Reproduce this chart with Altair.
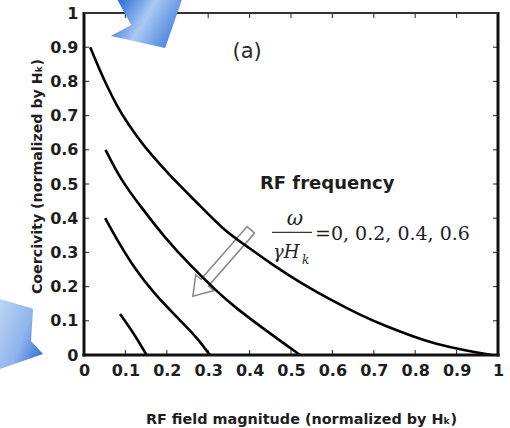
import math
import altair as alt
import pandas as pd

# ---------------------------------------------------------------------------
# Coercivity versus RF field magnitude, one curve per normalised RF frequency
# ---------------------------------------------------------------------------
freq_labels = ["0", "0.2", "0.4", "0.6"]

h_f0 = [0.015, 0.036, 0.056, 0.080, 0.105, 0.145, 0.185, 0.221, 0.274, 0.338,
        0.385, 0.457, 0.522, 0.602, 0.667, 0.731, 0.795, 0.844, 0.924, 0.985]
hc_f0 = [0.900, 0.839, 0.785, 0.727, 0.678, 0.610, 0.556, 0.508, 0.444, 0.365,
         0.325, 0.262, 0.212, 0.157, 0.117, 0.083, 0.054, 0.034, 0.012, 0.000]

h_f2 = [0.052, 0.089, 0.137, 0.193, 0.258, 0.322, 0.361, 0.441, 0.522]
hc_f2 = [0.600, 0.512, 0.434, 0.346, 0.260, 0.185, 0.143, 0.070, 0.000]

h_f4 = [0.051, 0.083, 0.121, 0.169, 0.225, 0.274, 0.304]
hc_f4 = [0.400, 0.330, 0.255, 0.180, 0.110, 0.050, 0.000]

h_f6 = [0.087, 0.121, 0.151]
hc_f6 = [0.120, 0.062, 0.000]

tick_vals = [0, 0.1, 0.2, 0.3, 0.4, 0.5, 0.6, 0.7, 0.8, 0.9, 1]
inner_ticks = tick_vals[1:-1]

# Outline of the hollow "increasing frequency" arrow (axis units)
arrow_tail = (0.403, 0.366)
arrow_tip = (0.263, 0.172)

# Decorative blue pointer shapes (axis units)
top_pointer_x = [0.080, 0.114, 0.065, 0.196, 0.237, 0.080]
top_pointer_y = [1.040, 0.965, 0.933, 0.898, 1.040, 1.040]
left_pointer_x = [-0.225, -0.123, -0.128, -0.099, -0.225, -0.225]
left_pointer_y = [0.172, 0.135, 0.041, 0.003, -0.050, 0.172]

# ---------------------------------------------------------------------------
W, H = 414, 342
FRAME = "#111111"
TXT = "#1e1e1e"

curves = pd.concat(
    [
        pd.DataFrame({"h": h, "hc": c, "freq": f})
        for h, c, f in zip([h_f0, h_f2, h_f4, h_f6],
                           [hc_f0, hc_f2, hc_f4, hc_f6], freq_labels)
    ],
    ignore_index=True,
)

sx = alt.Scale(domain=[0, 1], nice=False, zero=False)
sy = alt.Scale(domain=[0, 1], nice=False, zero=False)

x_axis = alt.Axis(
    values=tick_vals, format="~g", title="RF field magnitude (normalized by Hₖ)",
    labelFont="DejaVu Sans", labelFontWeight="bold", labelFontSize=16,
    labelColor=TXT, labelPadding=7, labelFlush=False, ticks=False, tickSize=0,
    domain=False, grid=False,
    titleFont="DejaVu Sans", titleFontWeight="bold", titleFontSize=14.4,
    titleColor=TXT, titleX=217, titleY=64, titleAlign="center",
    titleBaseline="middle",
)
y_axis = alt.Axis(
    values=tick_vals, format="~g", title="Coercivity (normalized by Hₖ)",
    labelFont="DejaVu Sans", labelFontWeight="bold", labelFontSize=16,
    labelColor=TXT, labelPadding=6, labelFlush=False, ticks=False, tickSize=0,
    domain=False, grid=False,
    titleFont="DejaVu Sans", titleFontWeight="bold", titleFontSize=14.2,
    titleColor=TXT, titleX=-47, titleY=163, titleAlign="center",
    titleBaseline="middle", titleAngle=270,
)


def X(field):
    return alt.X(field, type="quantitative", scale=sx, axis=x_axis)


def Y(field):
    return alt.Y(field, type="quantitative", scale=sy, axis=y_axis)


one = pd.DataFrame({"k": [0]})


def polygon(xs, ys):
    return pd.DataFrame({"px": xs, "py": ys, "i": list(range(len(xs)))})


def block_arrow(tail, tip, shaft_half=5.0, head_half=12.0, head_len=18.0):
    # built in screen units so the arrow keeps its proportions
    tx, ty = tail[0] * W, tail[1] * H
    ex, ey = tip[0] * W, tip[1] * H
    length = math.hypot(ex - tx, ey - ty)
    ux, uy = (ex - tx) / length, (ey - ty) / length
    nx, ny = -uy, ux
    bx, by = ex - ux * head_len, ey - uy * head_len
    pts = [
        (tx + nx * shaft_half, ty + ny * shaft_half),
        (bx + nx * shaft_half, by + ny * shaft_half),
        (bx + nx * head_half, by + ny * head_half),
        (ex, ey),
        (bx - nx * head_half, by - ny * head_half),
        (bx - nx * shaft_half, by - ny * shaft_half),
        (tx - nx * shaft_half, ty - ny * shaft_half),
        (tx + nx * shaft_half, ty + ny * shaft_half),
    ]
    return polygon([p[0] / W for p in pts], [p[1] / H for p in pts])


# hollow arrow (drawn beneath the curves)
open_arrow = alt.Chart(block_arrow(arrow_tail, arrow_tip)).mark_line(
    color="#8c8c8c", strokeWidth=1.6, strokeJoin="miter"
).encode(x=X("px"), y=Y("py"), order="i:Q")

lines = alt.Chart(curves).mark_line(
    color="black", strokeWidth=2.6, interpolate="basis"
).encode(x=X("h"), y=Y("hc"), detail="freq:N")

# inward ticks on all four sides
tick_df = pd.DataFrame({"v": inner_ticks})
tick_style = dict(color="#333333", strokeWidth=1.1)
ticks_left = alt.Chart(tick_df).mark_rule(**tick_style).encode(
    y=Y("v"), x=alt.value(0), x2=alt.value(5))
ticks_right = alt.Chart(tick_df).mark_rule(**tick_style).encode(
    y=Y("v"), x=alt.value(W - 5), x2=alt.value(W))
ticks_bottom = alt.Chart(tick_df).mark_rule(**tick_style).encode(
    x=X("v"), y=alt.value(H - 5), y2=alt.value(H))
ticks_top = alt.Chart(tick_df).mark_rule(**tick_style).encode(
    x=X("v"), y=alt.value(0), y2=alt.value(5))

# frame
frame_left = alt.Chart(one).mark_rule(color=FRAME, strokeWidth=3).encode(
    x=alt.value(0), y=alt.value(-1), y2=alt.value(H + 1.5))
frame_bottom = alt.Chart(one).mark_rule(color=FRAME, strokeWidth=3).encode(
    y=alt.value(H), x=alt.value(-1.5), x2=alt.value(W + 1.5))
frame_right = alt.Chart(one).mark_rule(color=FRAME, strokeWidth=3).encode(
    x=alt.value(W), y=alt.value(-1), y2=alt.value(H + 1.5))
frame_top = alt.Chart(one).mark_rule(color="#333333", strokeWidth=1.8).encode(
    y=alt.value(0), x=alt.value(0), x2=alt.value(W))

# annotations
def label(text, x, y, **style):
    return alt.Chart(one).mark_text(text=text, **style).encode(
        x=alt.datum(x, type="quantitative", scale=sx, axis=x_axis),
        y=alt.datum(y, type="quantitative", scale=sy, axis=y_axis),
    )


panel = label("(a)", 0.394, 0.886, font="DejaVu Sans", fontSize=21,
              color="#2a2a2a", align="center", baseline="middle")
rf_title = label("RF frequency", 0.425, 0.4845, font="DejaVu Sans",
                 fontSize=18, fontWeight="bold", color=TXT, align="left",
                 baseline="alphabetic")
omega = label("ω", 0.5097, 0.380, font="DejaVu Serif", fontSize=20,
              fontStyle="italic", color=TXT, align="center",
              baseline="alphabetic")
gamma_h = label("γH", 0.4565, 0.2836, font="DejaVu Serif", fontSize=18,
                fontStyle="italic", color=TXT, align="left",
                baseline="alphabetic")
sub_k = label("k", 0.5266, 0.266, font="DejaVu Serif", fontSize=12,
              fontStyle="italic", color=TXT, align="left",
              baseline="alphabetic")
values_txt = label("=0, 0.2, 0.4, 0.6", 0.558, 0.3348, font="DejaVu Serif",
                   fontSize=19, color=TXT, align="left", baseline="alphabetic")
frac_bar = alt.Chart(one).mark_rule(color="#333333", strokeWidth=1.3).encode(
    x=alt.datum(0.454, type="quantitative", scale=sx, axis=x_axis),
    x2=alt.datum(0.551),
    y=alt.datum(0.3588, type="quantitative", scale=sy, axis=y_axis),
)

# blue pointers
top_fill = alt.Gradient(
    gradient="linear", x1=0, y1=0.3, x2=1, y2=0.7,
    stops=[alt.GradientStop(color="#2f6fd6", offset=0),
           alt.GradientStop(color="#a9c9f2", offset=0.45),
           alt.GradientStop(color="#3d7adb", offset=1)],
)
left_fill = alt.Gradient(
    gradient="linear", x1=0, y1=0.2, x2=1, y2=0.8,
    stops=[alt.GradientStop(color="#c2d8f5", offset=0),
           alt.GradientStop(color="#8fb5ec", offset=0.6),
           alt.GradientStop(color="#2f6fd6", offset=1)],
)
top_pointer = alt.Chart(polygon(top_pointer_x, top_pointer_y)).mark_line(
    fill=top_fill, strokeOpacity=0, interpolate="linear-closed"
).encode(x=X("px"), y=Y("py"), order="i:Q")
left_pointer = alt.Chart(polygon(left_pointer_x, left_pointer_y)).mark_line(
    fill=left_fill, strokeOpacity=0, interpolate="linear-closed"
).encode(x=X("px"), y=Y("py"), order="i:Q")

chart = alt.layer(
    ticks_left, ticks_right, ticks_bottom, ticks_top,
    open_arrow, lines,
    frame_left, frame_bottom, frame_right, frame_top,
    panel, rf_title, omega, frac_bar, gamma_h, sub_k, values_txt,
    top_pointer, left_pointer,
).properties(
    width=W, height=H,
    padding={"left": 84, "top": 13, "right": 12, "bottom": 73},
    autosize=alt.AutoSizeParams(type="none"),
    background="white",
).configure_view(stroke="transparent")

chart.save("out.html", embed_options={"renderer": "svg", "actions": False})
